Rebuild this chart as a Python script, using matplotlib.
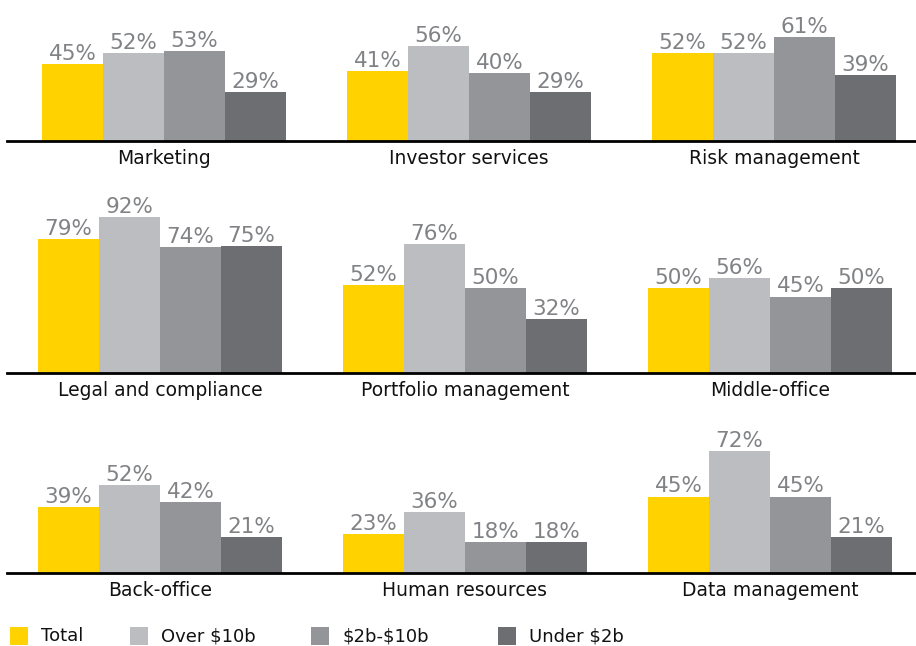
import matplotlib
matplotlib.use('Agg')
import numpy as np
import matplotlib.pyplot as plt
from matplotlib.patches import Rectangle

#==========================================================
# data
#==========================================================
series = ['Total', 'Over \\$10b', '\\$2b-\\$10b', 'Under \\$2b']
colors = ['#FFD200', '#BCBDC0', '#939598', '#6D6E71']

row1_cats = ['Marketing', 'Investor services', 'Risk management']
row1_vals = [[45, 52, 53, 29],
             [41, 56, 40, 29],
             [52, 52, 61, 39]]

row2_cats = ['Legal and compliance', 'Portfolio management', 'Middle-office']
row2_vals = [[79, 92, 74, 75],
             [52, 76, 50, 32],
             [50, 56, 45, 50]]

row3_cats = ['Back-office', 'Human resources', 'Data management']
row3_vals = [[39, 52, 42, 21],
             [23, 36, 18, 18],
             [45, 72, 45, 21]]

#==========================================================
# layout (pixels)
#==========================================================
W, H = 916, 646
bw = 61.0             # bar width in px
ppu = 1.7             # px per percent
ymax = 80

plt.rcParams['font.family'] = ['DejaVu Sans']
fig = plt.figure(figsize=(W/100, H/100), dpi=100)

rows = [(row1_cats, row1_vals, 141, 42),
        (row2_cats, row2_vals, 373, 38),
        (row3_cats, row3_vals, 573, 38)]

for cats, vals, base, x0 in rows:
    ax_h = ymax*ppu
    ax = fig.add_axes([7/W, 1-base/H, (W-7)/W, ax_h/H])
    ax.set_xlim((7-x0)/bw, (W-x0)/bw)
    ax.set_ylim(0, ymax)
    for g, v in enumerate(vals):
        for j, val in enumerate(v):
            xx = g*5 + j
            ax.bar(xx, val, 1.0, align='edge', color=colors[j], linewidth=0,
                   zorder=2, clip_on=False)
            ax.text(xx+0.5, val, '%d%%' % val, ha='center', va='bottom',
                    fontsize=15.5, color='#808285', zorder=3)
    ax.set_xticks([g*5+2 for g in range(len(cats))])
    ax.set_xticklabels(cats, fontsize=13.5, color='#111111')
    ax.tick_params(axis='x', length=0, pad=6)
    ax.set_yticks([])
    for s in ['top', 'right', 'left']:
        ax.spines[s].set_visible(False)
    ax.spines['bottom'].set_linewidth(2.0)
    ax.spines['bottom'].set_color('black')
    ax.spines['bottom'].set_zorder(5)
    ax.patch.set_alpha(0)

#==========================================================
# legend
#==========================================================
leg_x = [10, 130, 311, 498]
for lx, name, c in zip(leg_x, series, colors):
    fig.patches.append(Rectangle((lx/W, 1-645/H), 18/W, 18/H, transform=fig.transFigure,
                                 color=c, linewidth=0))
    fig.text((lx+31)/W, 1-636/H, name, fontsize=13, va='center', ha='left', color='#111111')

plt.savefig('out.png', dpi=100)
